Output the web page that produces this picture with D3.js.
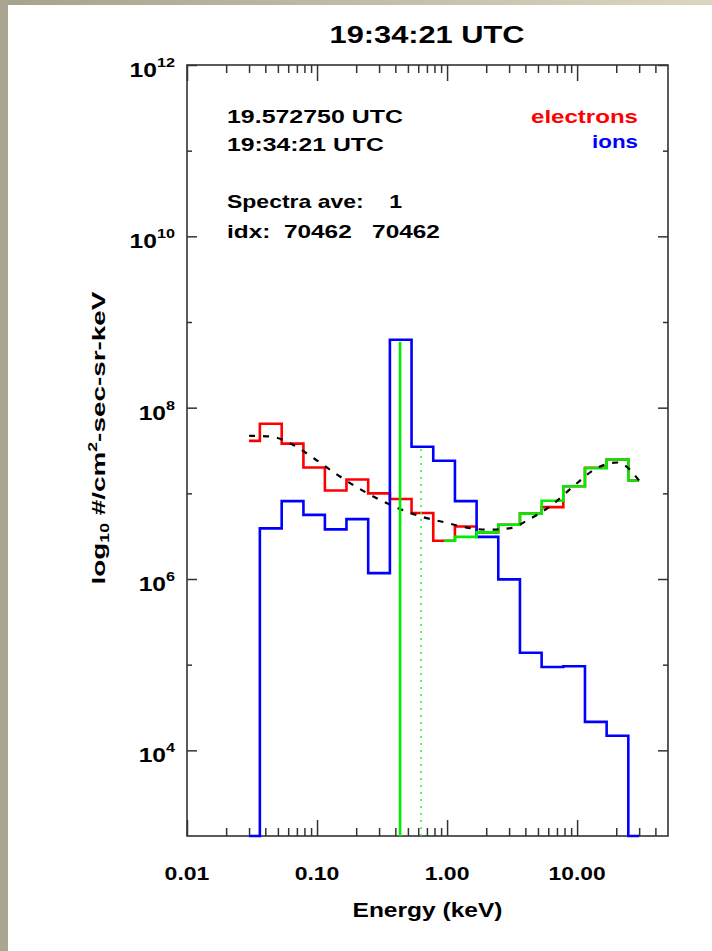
<!DOCTYPE html>
<html>
<head>
<meta charset="utf-8">
<script src="https://cdn.jsdelivr.net/npm/d3@7"></script>
<style>
  html, body { margin: 0; padding: 0; background: #fff; }
  svg { display: block; }
  text { font-family: "Liberation Sans", Arial, Helvetica, sans-serif; font-weight: bold; }
</style>
</head>
<body>
<svg id="chart" width="712" height="951"></svg>
<script>
// Energy channel centres (keV), shared by both species
const energies = [0.030, 0.044, 0.065, 0.095, 0.139, 0.204, 0.300, 0.440, 0.646, 0.949,
                  1.392, 2.044, 3.000, 4.403, 6.463, 9.487, 13.92, 20.44, 30.00];
// Differential flux, #/cm^2-sec-sr-keV
const electronFlux = [4.1e7, 6.5e7, 3.8e7, 2.0e7, 1.08e7, 1.45e7, 1.0e7, 8.6e6, 5.9e6, 2.8e6,
                      4.1e6, 3.5e6, 4.3e6, 5.8e6, 6.9e6, 1.21e7, 1.99e7, 2.48e7, 1.41e7];
const ionFlux = [1e2, 3.9e6, 8.1e6, 5.6e6, 3.8e6, 5.0e6, 1.17e6, 6.2e8, 3.5e7, 2.4e7,
                 8.1e6, 3.1e6, 9.9e5, 1.38e5, 9.4e4, 9.6e4, 2.15e4, 1.48e4, 1e2];
// Electron channels above the potential cut
const cutEnergies = [0.949, 1.392, 2.044, 3.000, 4.403, 6.463, 9.487, 13.92, 20.44, 30.00];
const cutFlux = [2.8e6, 3.1e6, 3.5e6, 4.3e6, 5.8e6, 8.2e6, 1.21e7, 1.96e7, 2.48e7, 1.41e7];
// Model fit to the electron spectrum
const fitFlux = [4.7e7, 4.6e7, 3.7e7, 2.55e7, 1.7e7, 1.17e7, 8.5e6, 6.5e6, 5.3e6, 4.6e6,
                 4.0e6, 3.76e6, 3.9e6, 5.1e6, 7.4e6, 1.23e7, 1.94e7, 2.29e7, 1.41e7];
// Vertical markers (keV) and how high they reach
const markerEnergies = [0.435, 0.631];
const markerTops = [5.9e8, 3.3e7];
// Axis ticks
const xMajor = [0.01, 0.1, 1, 10];
const xLabels = ["0.01", "0.10", "1.00", "10.00"];
const xMinor = [0.02,0.03,0.04,0.05,0.06,0.07,0.08,0.09,
                0.2,0.3,0.4,0.5,0.6,0.7,0.8,0.9,
                2,3,4,5,6,7,8,9, 20,30,40];
const yMajor = [1e4, 1e6, 1e8, 1e10, 1e12];
const yExponents = ["4", "6", "8", "10", "12"];
const yMinor = [1e5, 1e7, 1e9, 1e11];
const infoLines = ["19.572750 UTC", "19:34:21 UTC", "Spectra ave:    1", "idx:  70462   70462"];
const legendNames = ["electrons", "ions"];
const legendColors = ["#ff0000", "#0000ff"];

const svg = d3.select("#chart");
const L = 187, R = 668, T = 65, B = 836;

// Framed window edge
const defs = svg.append("defs");
const g1 = defs.append("linearGradient").attr("id", "topband").attr("x1", 0).attr("x2", 1).attr("y1", 0).attr("y2", 0);
g1.append("stop").attr("offset", 0).attr("stop-color", "#a6a28c");
g1.append("stop").attr("offset", 1).attr("stop-color", "#dcd6c1");
svg.append("rect").attr("x", 0).attr("y", 0).attr("width", 712).attr("height", 5).attr("fill", "url(#topband)");
svg.append("rect").attr("x", 0).attr("y", 0).attr("width", 8).attr("height", 951).attr("fill", "#a9a591");

const x = d3.scaleLog().domain([0.01, 50]).range([L, R]);
const y = d3.scaleLog().domain([1e3, 1e12]).range([B, T]).clamp(true);

// Scale a text horizontally so that it spans the given width
function fit(sel, tx, ty, width, rot) {
  const n = sel.node();
  const w = n.getComputedTextLength();
  const s = width / w;
  sel.attr("transform", `translate(${tx},${ty})` + (rot ? ` rotate(${rot})` : "") + ` scale(${s},1)`);
  return sel;
}

const axisColor = "#333";
function styleAxis(g) {
  g.select(".domain").remove();
  g.selectAll(".tick line").attr("stroke", axisColor).attr("stroke-width", 1.5);
}

// Bottom and top energy axes
svg.append("g").attr("transform", `translate(0,${B})`)
  .call(d3.axisBottom(x).tickValues(xMajor).tickSize(-16).tickFormat(""))
  .call(styleAxis);
svg.append("g").attr("transform", `translate(0,${B})`)
  .call(d3.axisBottom(x).tickValues(xMinor).tickSize(-8).tickFormat(""))
  .call(styleAxis);
svg.append("g").attr("transform", `translate(0,${T})`)
  .call(d3.axisTop(x).tickValues(xMajor).tickSize(-16).tickFormat(""))
  .call(styleAxis);
svg.append("g").attr("transform", `translate(0,${T})`)
  .call(d3.axisTop(x).tickValues(xMinor).tickSize(-8).tickFormat(""))
  .call(styleAxis);

// Left and right flux axes
svg.append("g").attr("transform", `translate(${L},0)`)
  .call(d3.axisLeft(y).tickValues(yMajor).tickSize(-10).tickFormat(""))
  .call(styleAxis);
svg.append("g").attr("transform", `translate(${L},0)`)
  .call(d3.axisLeft(y).tickValues(yMinor).tickSize(-5).tickFormat(""))
  .call(styleAxis);
svg.append("g").attr("transform", `translate(${R},0)`)
  .call(d3.axisRight(y).tickValues(yMajor).tickSize(-10).tickFormat(""))
  .call(styleAxis);
svg.append("g").attr("transform", `translate(${R},0)`)
  .call(d3.axisRight(y).tickValues(yMinor).tickSize(-5).tickFormat(""))
  .call(styleAxis);

svg.append("rect").attr("x", L).attr("y", T).attr("width", R - L).attr("height", B - T)
  .attr("fill", "none").attr("stroke", axisColor).attr("stroke-width", 1.6);

// Tick labels
xMajor.forEach((v, i) => {
  const t = svg.append("text").attr("text-anchor", "middle").attr("font-size", 19)
    .attr("fill", "#000").text(xLabels[i]);
  fit(t, x(v), 880, xLabels[i].length * 11.2 + (xLabels[i].length === 5 ? 1 : 0));
});
yMajor.forEach((v, i) => {
  const t = svg.append("text").attr("text-anchor", "end").attr("font-size", 20.5).attr("fill", "#000");
  t.append("tspan").text("10");
  t.append("tspan").attr("font-size", 13.5).attr("dy", -10).text(yExponents[i]);
  t.attr("transform", `translate(175,${y(v) + 12}) scale(1.2,1)`);
});

// Axis titles
fit(svg.append("text").attr("text-anchor", "middle").attr("font-size", 20).attr("fill", "#000")
  .text("Energy (keV)"), (L + R) / 2, 917, 150);

const yt = svg.append("text").attr("text-anchor", "middle").attr("font-size", 19).attr("fill", "#000");
yt.append("tspan").text("log");
yt.append("tspan").attr("font-size", 12).attr("dy", 4).text("10");
yt.append("tspan").attr("dy", -4).text(" #/cm");
yt.append("tspan").attr("font-size", 12).attr("dy", -8).text("2");
yt.append("tspan").attr("dy", 8).text("-sec-sr-keV");
fit(yt, 105, 438, 293, -90);

// Title
fit(svg.append("text").attr("text-anchor", "middle").attr("font-size", 24).attr("fill", "#000")
  .text("19:34:21 UTC"), 427, 43, 195);

// Info block
const infoBase = [123, 151, 208, 238];
const infoWidth = [176, 157, 175, 213];
infoLines.forEach((s, i) => {
  const t = svg.append("text").attr("font-size", 19).attr("fill", "#000")
    .style("white-space", "pre").text(s);
  fit(t, 227, infoBase[i], infoWidth[i]);
});

// Legend
const legBase = [123, 148], legWidth = [107, 46];
legendNames.forEach((s, i) => {
  const t = svg.append("text").attr("text-anchor", "end").attr("font-size", 19)
    .attr("fill", legendColors[i]).text(s);
  fit(t, 638, legBase[i], legWidth[i]);
});

// Spectra drawn as histograms
const step = d3.line().x(d => x(d[0])).y(d => y(d[1])).curve(d3.curveStep);
const plot = svg.append("g");
plot.append("path").datum(d3.zip(energies, electronFlux))
  .attr("d", step).attr("fill", "none").attr("stroke", "#ff0000").attr("stroke-width", 2.6);
plot.append("path").datum(d3.zip(energies, ionFlux))
  .attr("d", step).attr("fill", "none").attr("stroke", "#0000ff").attr("stroke-width", 2.6);
plot.append("path").datum(d3.zip(cutEnergies, cutFlux))
  .attr("d", step).attr("fill", "none").attr("stroke", "#00ee00").attr("stroke-width", 2.6);

// Fit curve
const smooth = d3.line().x(d => x(d[0])).y(d => y(d[1])).curve(d3.curveMonotoneX);
plot.append("path").datum(d3.zip(energies, fitFlux))
  .attr("d", smooth).attr("fill", "none").attr("stroke", "#000").attr("stroke-width", 2.2)
  .attr("stroke-dasharray", "6 8");

// Vertical markers
plot.append("line").attr("x1", x(markerEnergies[0])).attr("x2", x(markerEnergies[0]))
  .attr("y1", y(1e3)).attr("y2", y(markerTops[0]))
  .attr("stroke", "#00ee00").attr("stroke-width", 2.6);
plot.append("line").attr("x1", x(markerEnergies[1])).attr("x2", x(markerEnergies[1]))
  .attr("y1", y(1e3)).attr("y2", y(markerTops[1]))
  .attr("stroke", "#33ee33").attr("stroke-width", 1.5).attr("stroke-dasharray", "2 5");
</script>
</body>
</html>
